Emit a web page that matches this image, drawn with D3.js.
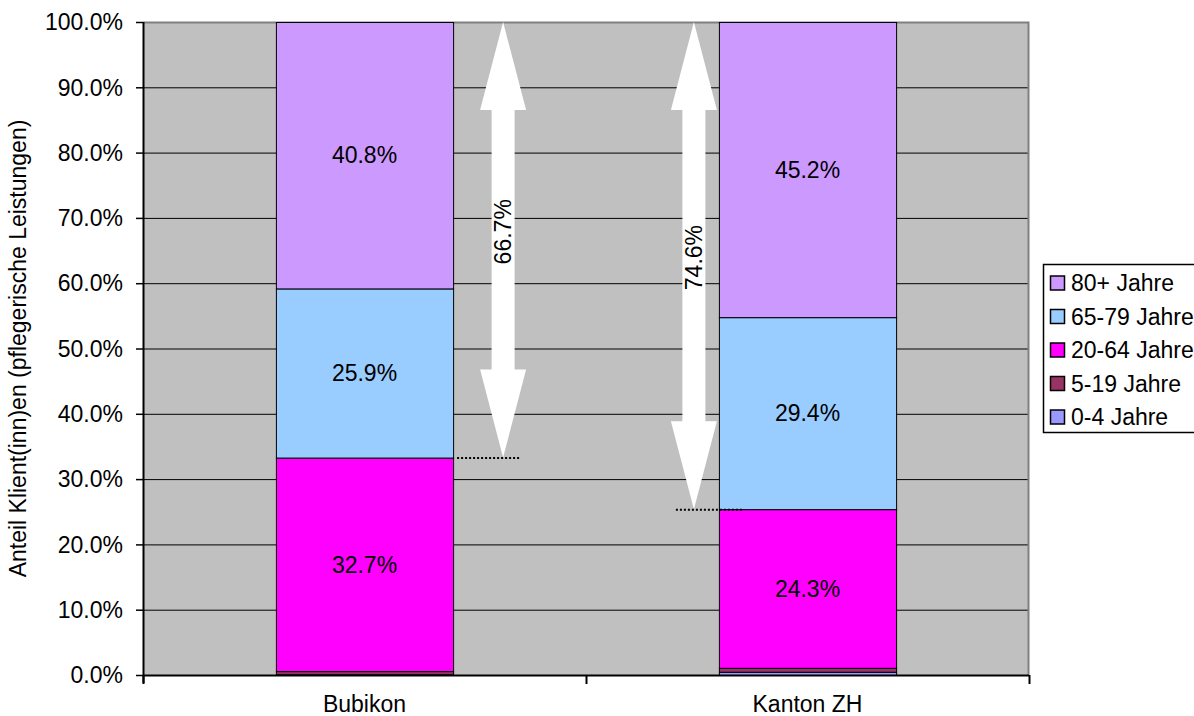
<!DOCTYPE html>
<html><head><meta charset="utf-8">
<script src="https://cdn.jsdelivr.net/npm/d3@7"></script>
<style>body{margin:0;background:#fff}svg{display:block;font-family:"Liberation Sans",Arial,sans-serif}</style>
</head><body>
<svg id="c" width="1194" height="716"></svg>
<script>
const categories = ["Bubikon", "Kanton ZH"];
const seriesNames = ["0-4 Jahre", "5-19 Jahre", "20-64 Jahre", "65-79 Jahre", "80+ Jahre"];
const seriesColors = ["#9999ff", "#993366", "#ff00ff", "#99ccff", "#cc99ff"];
const v0_4   = [0.1, 0.5];
const v5_19  = [0.5, 0.6];
const v20_64 = [32.7, 24.3];
const v65_79 = [25.9, 29.4];
const v80    = [40.8, 45.2];
const shownLabels = [false, false, true, true, true];
const arrowLabels = ["66.7%", "74.6%"];
const yTicks = [0,10,20,30,40,50,60,70,80,90,100];
const yTitle = "Anteil Klient(inn)en (pflegerische Leistungen)";

const series = [v0_4, v5_19, v20_64, v65_79, v80];
const svg = d3.select("#c");
const L = 143, R = 1029, T = 22, B = 675;
const FS = 23;

const x = d3.scaleBand().domain(categories).range([L, R]).paddingInner(0.6).paddingOuter(0.3);
const y = d3.scaleLinear().domain([0, 100]).range([B, T]);

svg.append("rect").attr("x", L).attr("y", T).attr("width", R - L).attr("height", B - T).attr("fill", "#c0c0c0");
svg.append("g").selectAll("line").data(yTicks.filter(t => t > 0 && t < 100)).join("line")
  .attr("x1", L).attr("x2", R).attr("y1", d => y(d) + 0.5).attr("y2", d => y(d) + 0.5)
  .attr("stroke", "#000").attr("stroke-width", 1);
svg.append("path").attr("d", `M${L},${T + 0.5}H${R - 0.5}V${B}`).attr("fill", "none").attr("stroke", "#808080").attr("stroke-width", 2);

const stacked = categories.map((c, i) => {
  let cum = 0;
  return series.map((s, k) => { const y0 = cum; cum += s[i]; return {c, k, y0, y1: cum, v: s[i]}; });
});

const gBars = svg.append("g");
stacked.forEach(segs => {
  segs.forEach(d => {
    gBars.append("rect").attr("x", x(d.c) + 0.5).attr("width", x.bandwidth())
      .attr("y", y(d.y1) + 0.5).attr("height", Math.max(0, y(d.y0) - y(d.y1)))
      .attr("fill", seriesColors[d.k]).attr("stroke", "#000").attr("stroke-width", 1);
  });
  segs.forEach(d => {
    if (!shownLabels[d.k]) return;
    gBars.append("text").attr("x", x(d.c) + x.bandwidth() / 2).attr("y", (y(d.y0) + y(d.y1)) / 2)
      .attr("dy", "0.36em").attr("text-anchor", "middle").attr("font-size", FS).text(d.v.toFixed(1) + "%");
  });
});

const arrowSide = [1, -1];
const gA = svg.append("g");
categories.forEach((c, i) => {
  const top = 100;
  const bot = stacked[i][2].y1;
  const cx = arrowSide[i] > 0 ? x(c) + x.bandwidth() + 50 : x(c) - 25;
  const yt = y(top), yb = y(bot);
  const hw = 23, sw = 11.5, hl = 88;
  const p = `M${cx},${yt} L${cx + hw},${yt + hl} L${cx + sw},${yt + hl} L${cx + sw},${yb - hl} L${cx + hw},${yb - hl} L${cx},${yb} L${cx - hw},${yb - hl} L${cx - sw},${yb - hl} L${cx - sw},${yt + hl} L${cx - hw},${yt + hl} Z`;
  gA.append("path").attr("d", p).attr("fill", "#fff");
  const x1 = arrowSide[i] > 0 ? x(c) + x.bandwidth() + 4 : cx - 18;
  const x2 = arrowSide[i] > 0 ? cx + 17 : x(c) + 24;
  gA.append("line").attr("x1", x1).attr("x2", x2).attr("y1", yb + 0.5).attr("y2", yb + 0.5)
    .attr("stroke", "#000").attr("stroke-width", 2).attr("stroke-dasharray", "2,2");
  const ly = (yt + yb) / 2 - 8;
  gA.append("text").attr("transform", `translate(${cx},${ly}) rotate(-90)`).attr("dy", "0.36em")
    .attr("text-anchor", "middle").attr("font-size", FS).text(arrowLabels[i]);
});

svg.append("line").attr("x1", L + 0.5).attr("x2", L + 0.5).attr("y1", T).attr("y2", B + 8).attr("stroke", "#000").attr("stroke-width", 2);
const gy = svg.append("g");
yTicks.forEach(t => {
  gy.append("line").attr("x1", L - 7).attr("x2", L).attr("y1", y(t) + 0.5).attr("y2", y(t) + 0.5).attr("stroke", "#000").attr("stroke-width", 1.5);
  gy.append("text").attr("x", L - 20).attr("y", y(t)).attr("dy", "0.36em").attr("text-anchor", "end").attr("font-size", FS).text(t.toFixed(1) + "%");
});
svg.append("line").attr("x1", L).attr("x2", R).attr("y1", B + 0.5).attr("y2", B + 0.5).attr("stroke", "#000").attr("stroke-width", 2);
const mid = (x(categories[0]) + x.bandwidth() + x(categories[1])) / 2;
[L, mid, R].forEach(bx => {
  svg.append("line").attr("x1", bx + 0.5).attr("x2", bx + 0.5).attr("y1", B).attr("y2", B + 9).attr("stroke", "#000").attr("stroke-width", 2);
});
categories.forEach(c => {
  svg.append("text").attr("x", x(c) + x.bandwidth() / 2).attr("y", 712).attr("text-anchor", "middle").attr("font-size", FS).text(c);
});
svg.append("text").attr("transform", `translate(26,${(T + B) / 2}) rotate(-90)`).attr("text-anchor", "middle").attr("font-size", FS).text(yTitle);

const lg = svg.append("g");
lg.append("rect").attr("x", 1043.5).attr("y", 264.5).attr("width", 170).attr("height", 168).attr("fill", "#fff").attr("stroke", "#000").attr("stroke-width", 1.5);
const order = [4, 3, 2, 1, 0];
order.forEach((k, j) => {
  const cy = 283 + j * 33.5;
  lg.append("rect").attr("x", 1050.5).attr("y", cy - 7).attr("width", 14).attr("height", 14).attr("fill", seriesColors[k]).attr("stroke", "#000").attr("stroke-width", 1.5);
  lg.append("text").attr("x", 1071).attr("y", cy).attr("dy", "0.36em").attr("font-size", FS).text(seriesNames[k]);
});
</script>
</body></html>
